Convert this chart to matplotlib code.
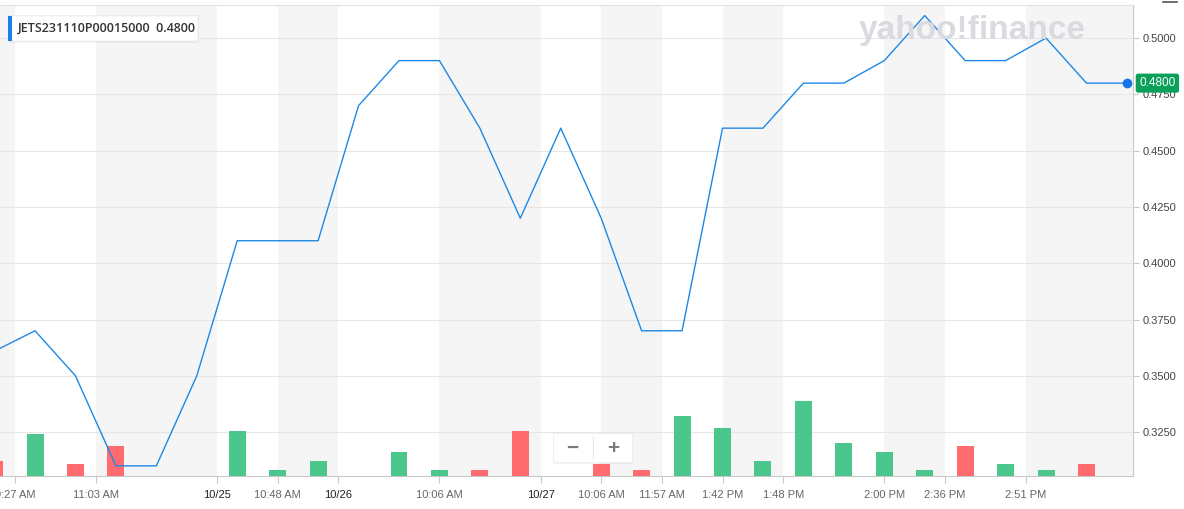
import numpy as np
import matplotlib.pyplot as plt
from matplotlib.patches import FancyBboxPatch, Rectangle
from matplotlib.lines import Line2D

# price (close) per bar, index 0 sits just left of the visible area
close = [0.361, 0.37, 0.35, 0.31, 0.31, 0.35, 0.41, 0.41, 0.41, 0.47,
         0.49, 0.49, 0.46, 0.42, 0.46, 0.42, 0.37, 0.37, 0.46, 0.46,
         0.48, 0.48, 0.49, 0.51, 0.49, 0.49, 0.50, 0.48, 0.48]
volume = [5, 14, 4, 10, 0, 0, 15, 2, 5, 0, 8, 2, 2, 15, 0, 4, 2, 20,
          16, 5, 25, 11, 8, 2, 10, 4, 2, 4, 0]

tick_pos = [0.5, 2.5, 5.5, 7, 8.5, 11, 13.5, 15, 16.5, 18, 19.5, 22, 23.5, 25.5]
tick_labels = ['9:27 AM', '11:03 AM', '10/25', '10:48 AM', '10/26', '10:06 AM',
               '10/27', '10:06 AM', '11:57 AM', '1:42 PM', '1:48 PM',
               '2:00 PM', '2:36 PM', '2:51 PM']
date_labels = {'10/25', '10/26', '10/27'}
yticks = [0.325, 0.35, 0.375, 0.40, 0.425, 0.45, 0.475, 0.50]

symbol = 'JETS231110P00015000'
last_price = close[-1]

W, H = 1184, 509
plt.rcParams['font.family'] = ['Liberation Sans', 'DejaVu Sans']

fig = plt.figure(figsize=(W / 100, H / 100), dpi=100)
fig.patch.set_facecolor('white')

def fx(px):
    return px / W

def fy(py):
    return 1 - py / H

rect = [0, fy(476), fx(1133), fy(5) - fy(476)]
xlim = (0.134, 28.15)
ylim = (0.3055, 0.5147)

# bottom axes: bands, grid, ticks
ax = fig.add_axes(rect)
ax.set_xlim(*xlim)
ax.set_ylim(*ylim)
edges = [xlim[0]] + tick_pos + [xlim[1]]
for i in range(len(edges) - 1):
    if i % 2 == 0:
        ax.axvspan(edges[i], edges[i + 1], color='#f5f5f5', lw=0, zorder=0)
ax.set_yticks(yticks)
ax.set_yticklabels([f'{v:.4f}' for v in yticks])
ax.yaxis.tick_right()
ax.grid(axis='y', color='#e6e6e6', lw=0.8, zorder=0.5)
ax.set_axisbelow(True)
ax.set_xticks(tick_pos)
ax.set_xticklabels(tick_labels)
ax.tick_params(axis='x', length=5, width=0.8, color='#c8c8c8', pad=5,
               labelsize=8, labelcolor='#666666')
ax.tick_params(axis='y', length=4, width=0.8, color='#c8c8c8', pad=3,
               labelsize=8, labelcolor='#444444')
for lab in ax.get_xticklabels():
    if lab.get_text() in date_labels:
        lab.set_color('#222222')
ax.spines['left'].set_visible(False)
ax.spines['right'].set_color('#c8c8c8')
ax.spines['bottom'].set_color('#c8c8c8')
ax.spines['top'].set_color('#e3e3e3')

# middle axes: volume bars
axv = fig.add_axes(rect, sharex=ax)
axv.patch.set_visible(False)
axv.set_ylim(0, 157)
axv.axis('off')
x = np.arange(len(close))
bar_colors = ['#ff6b6f']
for i in range(1, len(close)):
    bar_colors.append('#ff6b6f' if close[i] < close[i - 1] else '#4bc68d')
axv.bar(x, volume, width=0.42, color=bar_colors, lw=0)

# top axes: price line
axl = fig.add_axes(rect, sharex=ax, sharey=ax)
axl.patch.set_visible(False)
axl.axis('off')
axl.plot(x, close, color='#1e88e5', lw=1.0)
axl.plot(x[-1], last_price, 'o', color='#1a73e8', ms=6, clip_on=False, zorder=5)
axl.annotate(f'{last_price:.4f}', xy=(1.0, last_price), xycoords=('axes fraction', 'data'),
             xytext=(4.5, 0), textcoords='offset points', ha='left', va='center',
             fontsize=8.5, color='white',
             bbox=dict(boxstyle='round,pad=0.3,rounding_size=0.2', fc='#0aa05a', ec='none'))

# watermark
fig.text(fx(972), fy(31), 'yahoo!finance', ha='center', va='center', fontsize=24,
         fontweight='bold', color='#d9dbe0', zorder=0.2)

# legend box
fig.patches.append(Rectangle((fx(9), fy(43)), fx(190), fy(15) - fy(43),
                             transform=fig.transFigure, fc='#000000', alpha=0.06,
                             ec='none', zorder=9))
fig.patches.append(FancyBboxPatch((fx(8), fy(41)), fx(190), fy(16) - fy(41),
                                  boxstyle='round,pad=0,rounding_size=0.002',
                                  transform=fig.transFigure, fc='white', ec='#eeeeee',
                                  lw=0.6, zorder=10))
fig.patches.append(Rectangle((fx(8), fy(41)), fx(4), fy(16) - fy(41),
                             transform=fig.transFigure, fc='#1a7fe8', ec='none', zorder=11))
fig.text(fx(18), fy(28.5), f'{symbol}  {last_price:.4f}', ha='left', va='center',
         fontsize=9, color='#333333', family=['Open Sans', 'DejaVu Sans'],
         fontweight='semibold', zorder=12)

# zoom buttons
fig.patches.append(Rectangle((fx(554), fy(464)), fx(79), fy(433) - fy(464),
                             transform=fig.transFigure, fc='#000000', alpha=0.05,
                             ec='none', zorder=9))
fig.patches.append(Rectangle((fx(553), fy(462)), fx(79), fy(433) - fy(462),
                             transform=fig.transFigure, fc='white', ec='#eeeeee',
                             lw=0.6, zorder=10))
fig.lines.append(Line2D([fx(593), fx(593)], [fy(437), fy(458)], transform=fig.transFigure,
                        color='#e6e6e6', lw=0.8, zorder=11))
fig.text(fx(572), fy(448), '\u2212', ha='center', va='center', fontsize=15,
         fontweight='bold', color='#7a7a7a', zorder=12)
fig.text(fx(613), fy(448), '+', ha='center', va='center', fontsize=15,
         fontweight='bold', color='#7a7a7a', zorder=12)

# top-right menu icon stub
fig.lines.append(Line2D([fx(1163), fx(1177)], [fy(1.5), fy(1.5)], transform=fig.transFigure,
                        color='#555555', lw=1.2))

fig.savefig('out.png', dpi=100)
